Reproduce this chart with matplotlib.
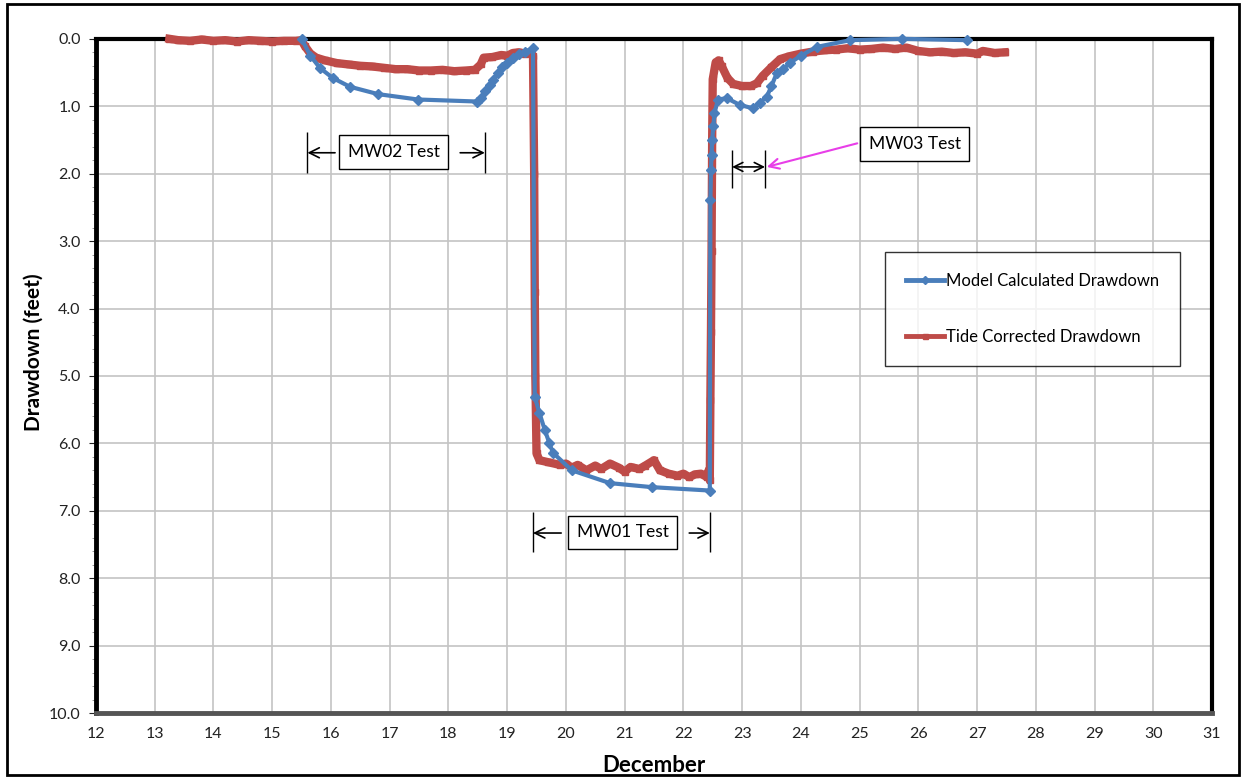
import matplotlib
matplotlib.use('Agg')
import matplotlib.pyplot as plt
from matplotlib.ticker import MultipleLocator, FormatStrFormatter

plt.rcParams['font.family'] = ['Lato', 'DejaVu Sans']

# Model calculated drawdown (blue, diamonds)
model_day = [15.5, 15.65, 15.81, 16.03, 16.32, 16.8, 17.48, 18.49, 18.55, 18.62,
             18.7, 18.76, 18.85, 18.92, 19.0, 19.1, 19.2, 19.3, 19.44, 19.47,
             19.55, 19.64, 19.72, 19.78, 20.1, 20.75, 21.47, 22.45, 22.46, 22.47,
             22.48, 22.49, 22.51, 22.53, 22.59, 22.74, 22.96, 23.18, 23.3, 23.42,
             23.5, 23.59, 23.7, 23.81, 24.0, 24.27, 24.84, 25.72, 26.83]
model_dd = [0.0, 0.25, 0.43, 0.58, 0.71, 0.82, 0.90, 0.93, 0.88, 0.78,
            0.68, 0.61, 0.50, 0.42, 0.36, 0.28, 0.23, 0.19, 0.14, 5.31,
            5.55, 5.80, 6.00, 6.14, 6.40, 6.59, 6.65, 6.70, 2.39, 1.94,
            1.72, 1.50, 1.30, 1.10, 0.90, 0.88, 0.98, 1.03, 0.95, 0.86,
            0.70, 0.51, 0.45, 0.36, 0.25, 0.12, 0.02, 0.00, 0.02]

# Tide corrected drawdown (red, squares)
tide_day = [13.25, 13.4, 13.6, 13.8, 14.0, 14.2, 14.4, 14.6, 14.8, 15.0,
            15.2, 15.4, 15.5, 15.55, 15.65, 15.75, 15.9, 16.1, 16.3, 16.5,
            16.7, 16.9, 17.1, 17.3, 17.5, 17.7, 17.9, 18.1, 18.3, 18.45,
            18.55, 18.6, 18.75, 18.9, 19.0, 19.1, 19.2, 19.3, 19.4, 19.44,
            19.46, 19.47, 19.48, 19.5, 19.55, 19.7, 19.9, 20.0, 20.1, 20.2,
            20.35, 20.5, 20.6, 20.75, 20.9, 21.0, 21.1, 21.25, 21.35, 21.5,
            21.6, 21.75, 21.9, 22.0, 22.1, 22.2, 22.3, 22.4, 22.43, 22.45,
            22.46, 22.47, 22.48, 22.49, 22.5, 22.55, 22.6, 22.65, 22.75, 22.85,
            23.0, 23.15, 23.25, 23.35, 23.5, 23.65, 23.8, 24.0, 24.2, 24.4,
            24.6, 24.8, 25.0, 25.2, 25.4, 25.6, 25.8, 26.0, 26.2, 26.4,
            26.6, 26.8, 27.0, 27.1, 27.3, 27.47]
tide_dd = [0.00, 0.02, 0.03, 0.01, 0.03, 0.02, 0.04, 0.02, 0.03, 0.04,
           0.03, 0.03, 0.02, 0.10, 0.22, 0.28, 0.32, 0.36, 0.38, 0.40,
           0.41, 0.43, 0.45, 0.45, 0.47, 0.47, 0.46, 0.48, 0.47, 0.46,
           0.38, 0.28, 0.27, 0.24, 0.25, 0.21, 0.20, 0.22, 0.20, 0.25,
           2.00, 3.75, 5.00, 6.15, 6.25, 6.28, 6.32, 6.30, 6.36, 6.32,
           6.40, 6.33, 6.38, 6.30, 6.36, 6.42, 6.35, 6.38, 6.33, 6.25,
           6.40, 6.45, 6.48, 6.45, 6.50, 6.46, 6.45, 6.50, 6.40, 6.55,
           5.35, 4.35, 3.15, 1.50, 0.60, 0.35, 0.32, 0.40, 0.58, 0.67,
           0.70, 0.70, 0.66, 0.55, 0.42, 0.30, 0.26, 0.22, 0.19, 0.17,
           0.16, 0.14, 0.16, 0.15, 0.13, 0.15, 0.13, 0.18, 0.20, 0.19,
           0.21, 0.20, 0.22, 0.18, 0.21, 0.20]

blue = '#4a7ebb'
red = '#be4b48'

fig = plt.figure(figsize=(12.45, 7.78), dpi=100)
ax = fig.add_axes([0.0771, 0.0835, 0.8964, 0.8666])

ax.plot(tide_day, tide_dd, color=red, lw=6, marker='s', ms=4.5,
        label='Tide Corrected Drawdown', zorder=4, clip_on=False)
ax.plot(model_day, model_dd, color=blue, lw=3, marker='D', ms=5.5,
        label='Model Calculated Drawdown', zorder=5, clip_on=False)

ax.set_xlim(12, 31)
ax.set_ylim(10, 0)
ax.xaxis.set_major_locator(MultipleLocator(1))
ax.yaxis.set_major_locator(MultipleLocator(1))
ax.yaxis.set_minor_locator(MultipleLocator(0.2))
ax.yaxis.set_major_formatter(FormatStrFormatter('%.1f'))
ax.grid(True, which='major', color='#c4c4c4', lw=1.2)
ax.set_axisbelow(True)
ax.tick_params(axis='y', which='major', length=5, labelsize=11.5, colors='#222222', pad=6)
ax.tick_params(axis='y', which='minor', length=3, color='#888888')
ax.tick_params(axis='x', length=0, labelsize=11.5, colors='#222222', pad=10)

ax.spines['left'].set_linewidth(3.5)
ax.spines['left'].set_color('black')
ax.spines['top'].set_linewidth(3)
ax.spines['top'].set_color('black')
ax.spines['bottom'].set_linewidth(3.5)
ax.spines['bottom'].set_color('#555555')
ax.spines['right'].set_linewidth(3)
ax.spines['right'].set_color('black')

ax.set_ylabel('Drawdown (feet)', fontsize=15, fontweight='bold')
ax.yaxis.set_label_coords(-0.047, 0.535)
ax.set_xlabel('December', fontsize=16, fontweight='bold', labelpad=10)

box = dict(boxstyle='square,pad=0.5', fc='white', ec='black', lw=1)
arrow = dict(arrowstyle='->', color='black', lw=1.2, mutation_scale=18,
             shrinkA=0, shrinkB=0)

# MW02 and MW01 windows
ax.vlines([15.6, 18.62], 1.38, 1.99, color='black', lw=1)
ax.annotate('', xy=(15.6, 1.69), xytext=(16.07, 1.69), arrowprops=arrow)
ax.annotate('', xy=(18.62, 1.69), xytext=(18.2, 1.69), arrowprops=arrow)
ax.text(17.07, 1.68, 'MW02 Test', ha='center', va='center', fontsize=12.5, bbox=box,
        zorder=6)

ax.vlines([19.44, 22.45], 7.02, 7.61, color='black', lw=1)
ax.annotate('', xy=(19.44, 7.33), xytext=(19.92, 7.33), arrowprops=arrow)
ax.annotate('', xy=(22.45, 7.33), xytext=(22.1, 7.33), arrowprops=arrow)
ax.text(20.97, 7.32, 'MW01 Test', ha='center', va='center', fontsize=12.5, bbox=box,
        zorder=6)

# MW03 window
ax.vlines([22.83, 23.39], 1.65, 2.21, color='black', lw=1)
ax.annotate('', xy=(22.83, 1.9), xytext=(23.39, 1.9),
            arrowprops=dict(arrowstyle='<->', color='black', lw=1.2,
                            mutation_scale=16, shrinkA=0, shrinkB=0))
ax.annotate('', xy=(23.42, 1.9), xytext=(24.96, 1.55),
            arrowprops=dict(arrowstyle='->', color='#e83ee8', lw=1.5,
                            mutation_scale=18, shrinkA=0, shrinkB=0))
ax.text(25.94, 1.56, 'MW03 Test', ha='center', va='center', fontsize=12.5, bbox=box,
        zorder=6)

handles, labels = ax.get_legend_handles_labels()
leg = ax.legend(handles[::-1], labels[::-1], loc='upper left',
                bbox_to_anchor=(0.707, 0.684), fontsize=12, frameon=True,
                fancybox=False, edgecolor='black', labelspacing=2.4,
                handlelength=2.3, handletextpad=0.1, borderpad=1.25,
                borderaxespad=0, markerscale=0.8)
leg.get_frame().set_linewidth(1)
for h in leg.legend_handles:
    h.set_linewidth(3.5)

# outer frame around the whole picture
fig.patches.append(plt.Rectangle((0.006, 0.004), 0.989, 0.991, transform=fig.transFigure,
                                 fill=False, ec='black', lw=2))

fig.savefig('out.png', dpi=100)
